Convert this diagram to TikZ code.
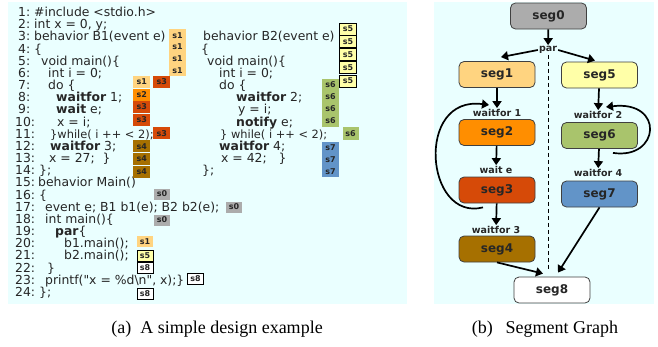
\documentclass[tikz,border=0pt]{standalone}
\usepackage{fontspec}
\setmainfont{DejaVu Sans}
\newfontfamily\capfont{Liberation Serif}
\usetikzlibrary{arrows.meta}

\definecolor{panelbg}{RGB}{234,255,255}
\definecolor{szero}{RGB}{172,172,172}
\definecolor{sone}{RGB}{255,212,128}
\definecolor{stwo}{RGB}{255,142,0}
\definecolor{sthree}{RGB}{214,74,8}
\definecolor{sfour}{RGB}{166,112,0}
\definecolor{sfive}{RGB}{255,255,168}
\definecolor{ssix}{RGB}{169,196,108}
\definecolor{sseven}{RGB}{98,148,200}

% baseline of code line #1
\newcommand{\Ly}[1]{16.5+12.17*#1-12.17}

\begin{document}
\begin{tikzpicture}[x=1pt, y=-1pt,
    code/.style={anchor=base west, inner sep=0pt, font=\fontsize{12.4}{12.4}\selectfont, text=black!85},
    tag/.style={rectangle, inner sep=0pt, minimum width=17pt, minimum height=12pt, font=\bfseries\fontsize{8}{8}\selectfont, text=black!85},
    tagbox/.style={tag, draw=black, line width=0.7pt},
    seg/.style={draw=black!75, line width=0.8pt, rounded corners=5pt, minimum width=76pt, minimum height=26pt, font=\bfseries\fontsize{12}{12}\selectfont, text=black!85},
    lbl/.style={inner sep=1pt, font=\bfseries\fontsize{9.5}{9.5}\selectfont, text=black!85},
    flow/.style={-{Triangle[width=9pt,length=7pt]}, line width=1.7pt},
    caption/.style={anchor=base, font=\capfont\fontsize{18}{18}\selectfont}]

    \useasboundingbox (0,0) rectangle (658,346);

    % Draw the panels
    \fill[panelbg] (8,2) rectangle (407,304);
    \fill[panelbg] (434,2) rectangle (654,304);

    % Draw the line numbers
    \foreach \n in {1,...,9} \node[code] (n\n) at (18,\Ly{\n}) {\n:};
    \foreach \n in {10,...,24} \node[code] (n\n) at (15,\Ly{\n}) {\n:};

    % Draw behavior B1 and Main
    \node[code] (a1) at (34,\Ly{1}) {\#include <stdio.h>};
    \node[code] (a2) at (34,\Ly{2}) {int x = 0, y;};
    \node[code] (a3) at (34,\Ly{3}) {behavior B1(event e)};
    \node[code] (a4) at (34,\Ly{4}) {\{};
    \node[code] (a5) at (41,\Ly{5}) {void main()\{};
    \node[code] (a6) at (48,\Ly{6}) {int i = 0;};
    \node[code] (a7) at (48,\Ly{7}) {do \{};
    \node[code] (a8) at (56,\Ly{8}) {\textbf{waitfor} 1;};
    \node[code] (a9) at (56,\Ly{9}) {\textbf{wait} e;};
    \node[code] (a10) at (57,\Ly{10}) {x = i;};
    \node[code, font=\fontsize{11.4}{11.4}\selectfont] (a11) at (50,\Ly{11}) {\}while( i ++ < 2);};
    \node[code] (a12) at (50,\Ly{12}) {\textbf{waitfor} 3;};
    \node[code] (a13) at (49,\Ly{13}) {x = 27;\ \ \}};
    \node[code] (a14) at (39,\Ly{14}) {\};};
    \node[code] (a15) at (38,\Ly{15}) {behavior Main()};
    \node[code] (a16) at (39,\Ly{16}) {\{};
    \node[code] (a17) at (45,\Ly{17}) {event e; B1 b1(e); B2 b2(e);};
    \node[code] (a18) at (45,\Ly{18}) {int main()\{};
    \node[code] (a19) at (55,\Ly{19}) {\textbf{par}\{};
    \node[code] (a20) at (64,\Ly{20}) {b1.main();};
    \node[code] (a21) at (64,\Ly{21}) {b2.main();};
    \node[code] (a22) at (47,\Ly{22}) {\}};
    \node[code] (a23) at (45,\Ly{23}) {printf(\textquotedbl x = \%d\textbackslash n\textquotedbl, x);\}};
    \node[code] (a24) at (39,\Ly{24}) {\};};

    % Draw behavior B2
    \node[code] (b3) at (203,\Ly{3}) {behavior B2(event e)};
    \node[code] (b4) at (201,\Ly{4}) {\{};
    \node[code] (b5) at (207,\Ly{5}) {void main()\{};
    \node[code] (b6) at (219,\Ly{6}) {int i = 0;};
    \node[code] (b7) at (219,\Ly{7}) {do \{};
    \node[code] (b8) at (236,\Ly{8}) {\textbf{waitfor} 2;};
    \node[code] (b9) at (238,\Ly{9}) {y = i;};
    \node[code] (b10) at (236,\Ly{10}) {\textbf{notify} e;};
    \node[code, font=\fontsize{11.4}{11.4}\selectfont] (b11) at (220,\Ly{11}) {\} while( i ++ < 2);};
    \node[code] (b12) at (219,\Ly{12}) {\textbf{waitfor} 4;};
    \node[code] (b13) at (221,\Ly{13}) {x = 42;\ \ \ \}};
    \node[code] (b14) at (202,\Ly{14}) {\};};

    % Draw the segment tags of B1 and Main
    \node[tag, fill=sone] (ta1) at (177.5,35.2) {s1};
    \node[tag, fill=sone] (ta2) at (177.5,46.8) {s1};
    \node[tag, fill=sone] (ta3) at (177.5,58.5) {s1};
    \node[tag, fill=sone] (ta4) at (177.5,70.2) {s1};
    \node[tag, fill=sone] (ta5) at (141.7,82) {s1};
    \node[tag, fill=sthree] (ta6) at (161.7,82) {s3};
    \node[tag, fill=stwo] (ta7) at (141.7,94.6) {s2};
    \node[tag, fill=sthree] (ta8) at (141.7,107) {s3};
    \node[tag, fill=sthree] (ta9) at (141.7,119.7) {s3};
    \node[tag, fill=sthree] (ta10) at (161.7,133.3) {s3};
    \node[tag, fill=sfour] (ta11) at (141.7,146.3) {s4};
    \node[tag, fill=sfour] (ta12) at (141.7,159) {s4};
    \node[tag, fill=sfour] (ta13) at (141.7,171.7) {s4};
    \node[tag, fill=szero, minimum width=16pt, minimum height=11pt] (ta14) at (162,194) {s0};
    \node[tag, fill=szero, minimum width=16pt, minimum height=11pt] (ta15) at (234,207) {s0};
    \node[tag, fill=szero, minimum width=16pt, minimum height=11pt] (ta16) at (162,220) {s0};
    \node[tag, fill=sone, minimum width=16pt, minimum height=11pt] (ta17) at (145,241.3) {s1};
    \node[tagbox, fill=sfive, minimum width=16pt, minimum height=11pt] (ta18) at (145,255.5) {s5};
    \node[tagbox, fill=white, minimum width=16pt, minimum height=11pt] (ta19) at (145,268) {s8};
    \node[tagbox, fill=white, minimum width=16pt, minimum height=11pt] (ta20) at (195.5,279) {s8};
    \node[tagbox, fill=white, minimum width=16pt, minimum height=11pt] (ta21) at (145,293.8) {s8};

    % Draw the segment tags of B2
    \node[tagbox, fill=sfive] (tb1) at (348,29) {s5};
    \node[tagbox, fill=sfive] (tb2) at (348,41.7) {s5};
    \node[tagbox, fill=sfive] (tb3) at (348,54.5) {s5};
    \node[tagbox, fill=sfive] (tb4) at (348,67.5) {s5};
    \node[tagbox, fill=sfive] (tb5) at (348,81) {s5};
    \node[tag, fill=ssix] (tb6) at (330.5,85) {s6};
    \node[tag, fill=ssix] (tb7) at (330.5,97) {s6};
    \node[tag, fill=ssix] (tb8) at (330.5,109) {s6};
    \node[tag, fill=ssix] (tb9) at (330.5,121) {s6};
    \node[tag, fill=ssix, minimum width=16pt, minimum height=13pt] (tb10) at (350.5,133.5) {s6};
    \node[tag, fill=sseven] (tb11) at (330.5,147.8) {s7};
    \node[tag, fill=sseven] (tb12) at (330.5,159.5) {s7};
    \node[tag, fill=sseven] (tb13) at (330.5,171.2) {s7};

    % Draw the segments
    \node[seg, fill=szero] (seg0) at (548.5,16) {seg0};
    \node[seg, fill=sone] (seg1) at (497,74.5) {seg1};
    \node[seg, fill=stwo] (seg2) at (497,132.5) {seg2};
    \node[seg, fill=sthree] (seg3) at (497,190) {seg3};
    \node[seg, fill=sfour] (seg4) at (497,249) {seg4};
    \node[seg, fill=sfive] (seg5) at (599.5,75) {seg5};
    \node[seg, fill=ssix] (seg6) at (599.5,135.5) {seg6};
    \node[seg, fill=sseven] (seg7) at (599.5,194) {seg7};
    \node[seg, fill=white] (seg8) at (552,290) {seg8};

    % Draw the labels
    \node[lbl] (par) at (548,50) {par};
    \node[lbl] (w1) at (497,113) {waitfor 1};
    \node[lbl] (we) at (496,170) {wait e};
    \node[lbl] (w3) at (496,230) {waitfor 3};
    \node[lbl] (w2) at (598,115) {waitfor 2};
    \node[lbl] (w4) at (598,173) {waitfor 4};
    \coordinate (loopL) at (489,105);
    \coordinate (loopR) at (606,107);

    % Draw connections
    \draw[dashed, line width=0.8pt, dash pattern=on 4pt off 3pt, shorten >=6pt] (par.south) -- (par.south |- seg8.north);
    \draw[flow] (seg0) -- (par);
    \draw[flow] (par.west) -- ([xshift=4pt,yshift=4pt]seg1.north);
    \draw[flow] (par.east) -- ([xshift=-4.5pt,yshift=1pt]seg5.north);
    \draw[flow] (seg1) -- (w1);
    \draw[flow] (seg2) -- (we);
    \draw[flow] (seg3) -- (w3);
    \draw[flow] (seg5) -- (w2);
    \draw[flow] (seg6) -- (w4);
    \draw[flow] (seg4.south) -- ([xshift=-9pt,yshift=3pt]seg8.north);
    \draw[flow] (seg7.south) -- ([xshift=6pt,yshift=4pt]seg8.north);
    \draw[flow] ([xshift=-14pt,yshift=-4pt]seg3.south) .. controls (425,222) and (415,95) .. (loopL);
    \draw[flow] ([xshift=13.5pt,yshift=-4pt]seg6.south) .. controls (660,160) and (665,100) .. (loopR);

    % Add captions
    \node[caption] (capa) at (217,333) {(a)\enspace A simple design example};
    \node[caption] (capb) at (545,333) {(b)\hspace{0.7em}Segment Graph};

\end{tikzpicture}
\end{document}
